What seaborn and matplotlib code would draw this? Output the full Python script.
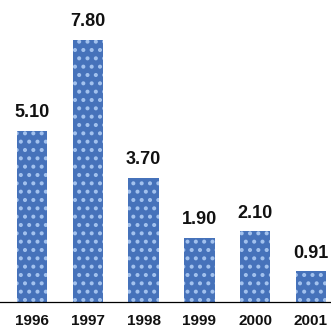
import matplotlib
matplotlib.use("Agg")
import matplotlib.pyplot as plt
import seaborn as sns
import pandas as pd

years = ["1996", "1997", "1998", "1999", "2000", "2001"]
values = [5.10, 7.80, 3.70, 1.90, 2.10, 0.91]
labels = ["5.10", "7.80", "3.70", "1.90", "2.10", "0.91"]

sns.set_theme(style="white")
plt.rcParams["font.family"] = ["Liberation Sans", "DejaVu Sans"]
plt.rcParams["hatch.linewidth"] = 1.7

df = pd.DataFrame({"year": years, "value": values})

fig = plt.figure(figsize=(3.31, 3.31), dpi=100)
ax = fig.add_axes([0, 29 / 331, 1, 302 / 331])

sns.barplot(data=df, x="year", y="value", color="#4672ba", saturation=1,
            width=0.55, ax=ax)

# speckled fill: light dotted hatch over the blue face
for p in ax.patches:
    p.set_hatch("..")
    p.set_edgecolor("#a3c2ee")
    p.set_linewidth(0)

ax.bar_label(ax.containers[0], labels=labels, padding=7,
             fontsize=13, fontweight="bold", color="#111111")

ax.set_xlim(-0.575, 5.36)
ax.set_ylim(0, 8.99)
ax.set_xlabel("")
ax.set_ylabel("")
ax.set_yticks([])
ax.set_xticks(range(len(years)), labels=years, fontsize=11,
              fontweight="bold", color="#111111")
ax.tick_params(axis="x", length=0, pad=8.5)

for s in ["top", "right", "left"]:
    ax.spines[s].set_visible(False)
ax.spines["bottom"].set_color("black")
ax.spines["bottom"].set_linewidth(0.9)

fig.savefig("out.png", dpi=100)
